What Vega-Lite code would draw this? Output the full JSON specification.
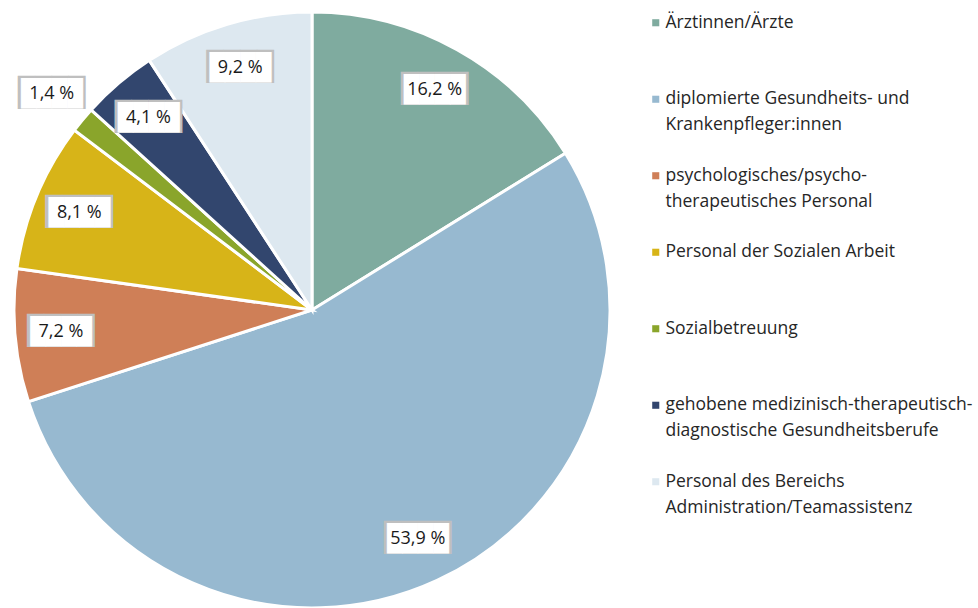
{
  "$schema": "https://vega.github.io/schema/vega-lite/v6.json",
  "width": 596,
  "height": 596,
  "autosize": {"type": "none"},
  "padding": {"left": 14, "top": 12, "right": 368, "bottom": 0},
  "background": "white",
  "config": {
    "view": {"stroke": null},
    "font": "Open Sans",
    "style": {"guide-label": {"lineHeight": 26}}
  },
  "data": {
    "values": [
      {"idx": 1, "category": "Ärztinnen/Ärzte", "value": 16.2},
      {"idx": 2, "category": "diplomierte Gesundheits- und\nKrankenpfleger:innen", "value": 53.9},
      {"idx": 3, "category": "psychologisches/psycho-\ntherapeutisches Personal", "value": 7.2},
      {"idx": 4, "category": "Personal der Sozialen Arbeit", "value": 8.1},
      {"idx": 5, "category": "Sozialbetreuung", "value": 1.4},
      {"idx": 6, "category": "gehobene medizinisch-therapeutisch-\ndiagnostische Gesundheitsberufe", "value": 4.1},
      {"idx": 7, "category": "Personal des Bereichs\nAdministration/Teamassistenz", "value": 9.2}
    ]
  },
  "transform": [
    {"calculate": "replace(format(datum.value, '.1f'), '.', ',') + ' %'", "as": "label"}
  ],
  "encoding": {
    "theta": {"field": "value", "type": "quantitative", "stack": true},
    "order": {"field": "idx", "type": "quantitative"}
  },
  "layer": [
    {
      "mark": {"type": "arc", "stroke": "white", "strokeWidth": 3, "outerRadius": 298},
      "encoding": {
        "color": {
          "field": "category",
          "type": "nominal",
          "sort": null,
          "scale": {
            "domain": [
              "Ärztinnen/Ärzte",
              "diplomierte Gesundheits- und\nKrankenpfleger:innen",
              "psychologisches/psycho-\ntherapeutisches Personal",
              "Personal der Sozialen Arbeit",
              "Sozialbetreuung",
              "gehobene medizinisch-therapeutisch-\ndiagnostische Gesundheitsberufe",
              "Personal des Bereichs\nAdministration/Teamassistenz"
            ],
            "range": ["#7fab9f", "#97b9d0", "#cf7f57", "#d7b418", "#8aa52b", "#32466e", "#dde8f0"]
          },
          "legend": {
            "title": null,
            "orient": "none",
            "legendX": 633,
            "legendY": 2,
            "symbolType": "square",
            "symbolSize": 50,
            "symbolStrokeWidth": 0,
            "labelFont": "Open Sans",
            "labelFontSize": 17.5,
            "labelColor": "#262626",
            "labelExpr": "split(datum.label, '\\n')",
            "labelLimit": 400,
            "labelOffset": 1,
            "gridAlign": "all",
            "rowPadding": 31.5
          }
        }
      }
    },
    {
      "mark": {"type": "text", "radius": 252, "font": "DejaVu Sans Mono", "fontSize": 28, "text": "████", "color": "#bfbfbf"},
      "encoding": {"opacity": {"condition": {"test": "datum.value < 2", "value": 0}, "value": 1}}
    },
    {
      "mark": {"type": "text", "radius": 252, "font": "DejaVu Sans Mono", "fontSize": 25.6, "text": "████", "color": "#ffffff"},
      "encoding": {"opacity": {"condition": {"test": "datum.value < 2", "value": 0}, "value": 1}}
    },
    {
      "mark": {"type": "text", "radius": 252, "fontSize": 18, "color": "#1a1a1a"},
      "encoding": {
        "text": {"field": "label"},
        "opacity": {"condition": {"test": "datum.value < 2", "value": 0}, "value": 1}
      }
    },
    {
      "mark": {"type": "text", "radius": 338, "font": "DejaVu Sans Mono", "fontSize": 28, "text": "████", "color": "#bfbfbf"},
      "encoding": {"opacity": {"condition": {"test": "datum.value < 2", "value": 1}, "value": 0}}
    },
    {
      "mark": {"type": "text", "radius": 338, "font": "DejaVu Sans Mono", "fontSize": 25.6, "text": "████", "color": "#ffffff"},
      "encoding": {"opacity": {"condition": {"test": "datum.value < 2", "value": 1}, "value": 0}}
    },
    {
      "mark": {"type": "text", "radius": 338, "fontSize": 18, "color": "#1a1a1a"},
      "encoding": {
        "text": {"field": "label"},
        "opacity": {"condition": {"test": "datum.value < 2", "value": 1}, "value": 0}
      }
    }
  ]
}
